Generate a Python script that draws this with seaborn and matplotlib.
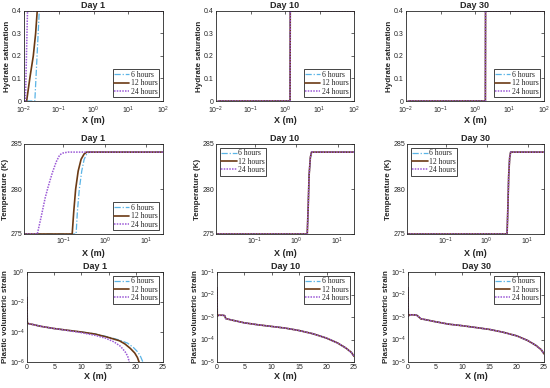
import numpy as np
import pandas as pd
import matplotlib as mpl
mpl.use("Agg")
import matplotlib.pyplot as plt
import seaborn as sns
from matplotlib.ticker import NullLocator, FixedLocator

sns.set_style("white")
plt.rcParams["font.family"] = ["Liberation Sans", "DejaVu Sans"]
plt.rcParams["mathtext.default"] = "regular"

# ---- data ----
labels = ["6 hours", "12 hours", "24 hours"]
days = ["Day 1", "Day 10", "Day 30"]

# hydrate saturation vs radial distance (log x)
sh_d1_6_x = [0.0115, 0.0205, 0.0275, 100]
sh_d1_6_y = [0, 0, 0.4, 0.4]
sh_d1_12_x = [0.0115, 0.0119, 0.0150, 0.0185, 0.0216, 0.024, 100]
sh_d1_12_y = [0, 0, 0.11, 0.2, 0.3, 0.4, 0.4]
sh_d1_24_x = [0.0105, 0.0110, 0.0126, 100]
sh_d1_24_y = [0, 0, 0.4, 0.4]
sh_d10_x = [0.0115, 1.40, 1.42, 100]
sh_d10_y = [0, 0, 0.4, 0.4]
sh_d30_x = [0.0115, 2.00, 2.02, 100]
sh_d30_y = [0, 0, 0.4, 0.4]

# temperature (K)
t_d1_6_x = [0.0115, 0.205, 0.22, 0.245, 0.28, 0.32, 0.37, 0.43, 25]
t_d1_6_y = [275, 275, 277.5, 280, 282, 283.3, 283.9, 284.1, 284.1]
t_d1_12_x = [0.0115, 0.165, 0.18, 0.20, 0.23, 0.27, 0.32, 0.37, 25]
t_d1_12_y = [275, 275, 277.5, 280, 282, 283.3, 283.9, 284.1, 284.1]
t_d1_24_x = [0.0115, 0.024, 0.030, 0.037, 0.044, 0.055, 0.068, 0.083, 0.10, 0.13, 25]
t_d1_24_y = [275, 275, 277, 279, 280.3, 281.8, 283.0, 283.8, 284.0, 284.1, 284.1]
t_d10_x = [0.0115, 1.85, 1.95, 2.05, 2.2, 2.35, 25]
t_d10_y = [275, 275, 278, 281.5, 283.5, 284.1, 284.1]
t_d30_x = [0.0115, 3.15, 3.3, 3.45, 3.65, 3.85, 25]
t_d30_y = [275, 275, 278, 281.5, 283.5, 284.1, 284.1]

# plastic volumetric strain (log y)
ep_d1_6_x = [0, 0.05, 0.3, 1, 2.5, 5, 7.5, 10, 12.5, 15, 17, 18.5, 19.6, 20.4, 20.9, 21.3]
ep_d1_6_y = [2e-2, 4e-4, 3.6e-4, 3.2e-4, 2.4e-4, 1.7e-4, 1.3e-4, 1.0e-4, 7.5e-5, 4.6e-5,
             2.9e-5, 1.8e-5, 9e-6, 4.5e-6, 2.2e-6, 1e-6]
ep_d1_12_x = [0, 0.05, 0.3, 1, 2.5, 5, 7.5, 10, 12.5, 15, 17, 18, 19, 19.8, 20.3, 20.6]
ep_d1_12_y = [2e-2, 4e-4, 3.6e-4, 3.2e-4, 2.4e-4, 1.7e-4, 1.3e-4, 1.0e-4, 7.3e-5, 4.3e-5,
              2.6e-5, 1.6e-5, 8e-6, 4e-6, 2e-6, 1e-6]
ep_d1_24_x = [0, 0.05, 0.3, 1, 2.5, 5, 7.5, 10, 12.5, 14.5, 16, 17.2, 18.0, 18.5, 18.8]
ep_d1_24_y = [2e-2, 4e-4, 3.6e-4, 3.2e-4, 2.4e-4, 1.7e-4, 1.25e-4, 9e-5, 6e-5, 3.8e-5,
              2.2e-5, 1.1e-5, 5e-6, 2.5e-6, 1e-6]
ep_d10_x = [0, 0.05, 0.3, 1.0, 1.4, 1.6, 2.5, 5, 7.5, 10, 12.5, 15, 17.5, 20, 22, 23.5, 24.5, 25]
ep_d10_y = [2e-2, 1.1e-3, 1.2e-3, 1.2e-3, 1.15e-3, 8.5e-4, 7.5e-4, 5.5e-4, 4.5e-4, 3.8e-4,
            3.2e-4, 2.5e-4, 1.8e-4, 1.15e-4, 7e-5, 4.2e-5, 2.7e-5, 1.8e-5]
ep_d30_x = [0, 0.05, 0.3, 1.0, 1.6, 2.0, 2.4, 3, 5, 7.5, 10, 12.5, 15, 17.5, 20, 22, 23.5, 24.5, 25]
ep_d30_y = [2e-2, 1.1e-3, 1.25e-3, 1.25e-3, 1.2e-3, 1.0e-3, 8.2e-4, 7.8e-4, 6.2e-4, 4.8e-4,
            4.1e-4, 3.4e-4, 2.8e-4, 2.1e-4, 1.45e-4, 9e-5, 5.5e-5, 3.5e-5, 2.3e-5]

panels = [
    [[(sh_d1_6_x, sh_d1_6_y), (sh_d1_12_x, sh_d1_12_y), (sh_d1_24_x, sh_d1_24_y)],
     [(sh_d10_x, sh_d10_y)] * 3,
     [(sh_d30_x, sh_d30_y)] * 3],
    [[(t_d1_6_x, t_d1_6_y), (t_d1_12_x, t_d1_12_y), (t_d1_24_x, t_d1_24_y)],
     [(t_d10_x, t_d10_y)] * 3,
     [(t_d30_x, t_d30_y)] * 3],
    [[(ep_d1_6_x, ep_d1_6_y), (ep_d1_12_x, ep_d1_12_y), (ep_d1_24_x, ep_d1_24_y)],
     [(ep_d10_x, ep_d10_y)] * 3,
     [(ep_d30_x, ep_d30_y)] * 3],
]

colors = ["#5ab4e6", "#6b3a14", "#9b59d6"]
styles = [(0, (5, 1.5, 1, 1.5)), "-", (0, (1, 0.8))]
widths = [0.9, 1.2, 1.1]

ylabels = ["Hydrate saturation", "Temperature (K)", "Plastic volumetric strain"]
legend_loc = [["lower right"] * 3,
              ["lower right", "upper left", "upper left"],
              ["upper right"] * 3]

# axes boxes in pixels: (left, right, top, bottom)
W, H = 550, 388
boxes = [
    [(24, 163, 11, 101), (216, 354, 11, 101), (406, 544, 11, 101)],
    [(24, 163, 144, 234), (216, 354, 144, 234), (407, 544, 144, 234)],
    [(27, 163, 272, 362), (217, 354, 272, 362), (408, 544, 272, 362)],
]

fig = plt.figure(figsize=(5.5, 3.88), dpi=100)
serif = {"family": "Liberation Serif", "size": 5.5}

for r in range(3):
    for c in range(3):
        l, rr, t, b = boxes[r][c]
        ax = fig.add_axes([l / W, 1 - b / H, (rr - l) / W, (b - t) / H])
        for k, (xs, ys) in enumerate(panels[r][c]):
            df = pd.DataFrame({"x": xs, "y": ys})
            sns.lineplot(data=df, x="x", y="y", ax=ax, color=colors[k],
                         linestyle=styles[k], linewidth=widths[k],
                         label=labels[k], sort=False, estimator=None)
        if r == 0:
            ax.set_xscale("log")
            ax.set_xlim(1e-2, 1e2)
            ax.set_ylim(0, 0.4)
            ax.set_yticks([0, 0.1, 0.2, 0.3, 0.4])
            ax.set_yticklabels(["0", "0.1", "0.2", "0.3", "0.4"])
        elif r == 1:
            ax.set_xscale("log")
            ax.set_xlim(0.0115, 25)
            ax.set_ylim(275, 285)
            ax.set_yticks([275, 280, 285])
        else:
            ax.set_yscale("log")
            ax.set_xlim(0, 25)
            ax.set_xticks([0, 5, 10, 15, 20, 25])
            if c == 0:
                ax.set_ylim(1e-6, 1e0)
                ax.yaxis.set_major_locator(FixedLocator([1e-6, 1e-4, 1e-2, 1e0]))
            else:
                ax.set_ylim(1e-5, 1e-1)
                ax.yaxis.set_major_locator(FixedLocator([1e-5, 1e-4, 1e-3, 1e-2, 1e-1]))
        ax.xaxis.set_minor_locator(NullLocator())
        ax.yaxis.set_minor_locator(NullLocator())
        ax.tick_params(direction="in", length=2.5, width=0.5, labelsize=5,
                       pad=1.5, top=True, right=True, colors="#262626")
        if r == 0:
            ax.tick_params(axis="x", pad=3)
        for sp in ax.spines.values():
            sp.set_linewidth(0.6)
            sp.set_color("#262626")
        ax.set_title(days[c], fontsize=6.5, fontweight="bold", pad=2)
        ax.set_xlabel("X (m)", fontsize=6.5, fontweight="bold",
                      labelpad=0 if r == 0 else 1)
        ax.set_ylabel(ylabels[r], fontsize=5.8, fontweight="bold", labelpad=0.5)
        leg = ax.legend(loc=legend_loc[r][c], prop=serif, frameon=True,
                        fancybox=False, framealpha=1, edgecolor="#262626",
                        borderpad=0.2, labelspacing=0.05, handlelength=2.0,
                        handletextpad=0.2, borderaxespad=0.5)
        leg.get_frame().set_linewidth(0.6)

fig.savefig("out.png", dpi=100)
